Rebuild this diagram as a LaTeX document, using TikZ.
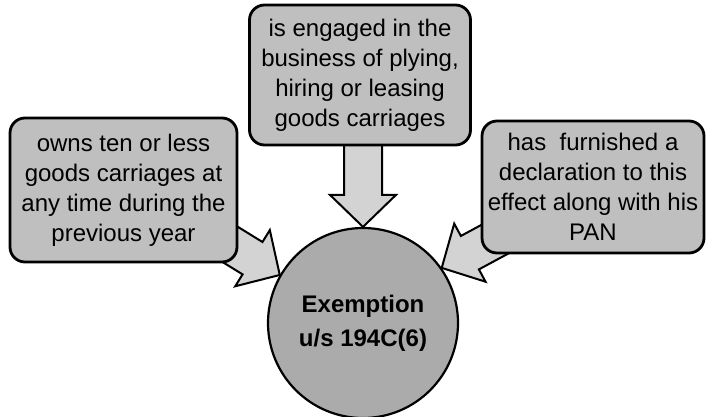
\documentclass[tikz,border=0pt]{standalone}
\usepackage{fontspec}
\setmainfont{Liberation Sans}
\usepackage{tikz}
\usetikzlibrary{calc, backgrounds, positioning}
\definecolor{boxgray}{RGB}{191,191,191}
\definecolor{arrowgray}{RGB}{212,211,212}
\definecolor{hubgray}{RGB}{171,171,171}

% block arrow from a tail coordinate to a tip
\newcommand{\feedarrow}[2]{%
  \coordinate (#1-hb) at ($(#2)!16pt!(#1)$);
  \draw[feed] ($(#1)!9.5pt!90:(#2)$) -- ($(#1-hb)!9.5pt!90:(#2)$)
    -- ($(#1-hb)!16.5pt!90:(#2)$) -- (#2)
    -- ($(#1-hb)!16.5pt!-90:(#2)$) -- ($(#1-hb)!9.5pt!-90:(#2)$)
    -- ($(#1)!9.5pt!-90:(#2)$) -- cycle;
}

\begin{document}
\begin{tikzpicture}[x=0.5pt, y=-0.5pt,
    cond/.style={rectangle, rounded corners=7.5pt, draw=black, line width=1.4pt,
                 fill=boxgray, align=center, inner sep=2pt,
                 font=\fontsize{12}{15}\selectfont},
    hubnode/.style={circle, draw=black, line width=1.1pt, fill=hubgray,
                    minimum size=95pt, align=center, inner sep=0pt,
                    font=\fontsize{12}{17}\selectfont\bfseries},
    feed/.style={draw=black, line width=1pt, fill=arrowgray, line join=miter},
]
\useasboundingbox (0,0) rectangle (706,417);

\node[cond, minimum width=110.5pt, minimum height=70pt] (plying) at (360,75)
  {is engaged in the\\business of plying,\\hiring or leasing\\goods carriages};
\node[cond, minimum width=113.5pt, minimum height=72pt] (owns) at (123.5,190)
  {owns ten or less\\goods carriages at\\any time during the\\previous year};
\node[cond, minimum width=111pt, minimum height=66pt] (pan) at (593,187)
  {has\ \ furnished a\\declaration to this\\effect along with his\\PAN};
\node[hubnode] (exempt) at (363,323) {Exemption\\u/s 194C(6)};

\begin{scope}[on background layer]
  \coordinate (plyfoot) at ($(plying.south -| exempt.north)+(0,-4)$);
  \feedarrow{plyfoot}{exempt.north}
  \coordinate (ownsfoot) at ($(owns.south east)+(-31,-33)$);
  \feedarrow{ownsfoot}{exempt.150}
  \coordinate (panfoot) at ($(pan.south west)+(38,-28)$);
  \feedarrow{panfoot}{exempt.35}
\end{scope}
\end{tikzpicture}
\end{document}
